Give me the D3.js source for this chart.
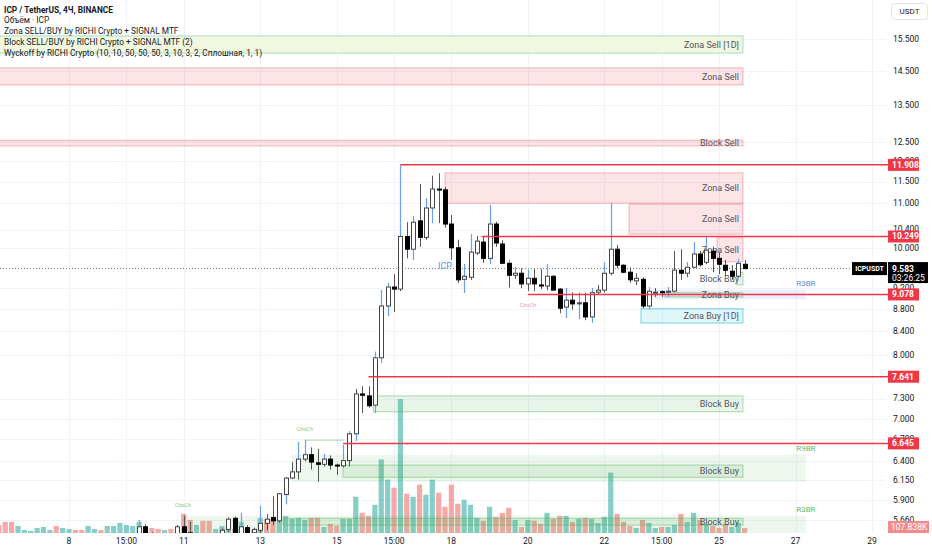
<!DOCTYPE html>
<html>
<head>
<meta charset="utf-8">
<script src="https://cdn.jsdelivr.net/npm/d3@7"></script>
<style>
body { margin: 0; background: #fff; }
svg { display: block; font-family: Roboto, "Noto Sans", sans-serif; }
</style>
</head>
<body>
<script>
// ICP / USDT, 4h candles, chart time (UTC+3), December 2023
var candleStart = "2023-12-09T23:00"; // first candle on screen
var volumeStart = "2023-12-06T07:00"; // first volume bar on screen

var open = [5.49,5.58,5.50,5.46,5.43,5.47,5.45,5.58,5.51,5.44,5.48,5.44,5.42,5.46,5.55,5.68,5.49,5.57,5.51,5.54,
  5.62,5.69,5.65,5.97,6.18,6.26,6.43,6.49,6.38,6.36,6.43,6.35,6.34,6.41,6.78,7.37,7.34,7.20,7.95,8.86,
  9.22,9.18,10.25,9.98,10.59,10.23,10.88,11.32,11.30,10.52,10.01,9.37,9.41,9.90,10.13,9.79,10.52,10.09,9.69,9.45,
  9.49,9.28,9.39,9.26,9.24,9.43,9.18,8.84,8.97,8.90,8.92,8.66,9.12,9.16,9.49,9.98,9.65,9.51,9.34,9.37,
  8.86,9.11,9.13,9.12,9.14,9.55,9.49,9.61,9.88,9.71,9.94,9.79,9.65,9.53,9.43,9.67];
var high = [5.66,5.61,5.52,5.50,5.49,5.51,5.60,5.71,5.64,5.50,5.50,5.48,5.49,5.56,5.69,5.70,5.74,5.60,5.57,5.83,
  5.73,5.95,5.99,6.19,6.39,6.66,6.69,6.59,6.57,6.50,6.48,6.37,6.62,6.82,7.45,7.49,7.49,8.05,9.16,9.30,
  9.47,11.908,10.56,10.70,11.44,11.11,11.64,11.70,11.37,10.72,10.18,9.67,10.30,10.26,10.26,10.95,10.57,10.17,9.76,9.61,
  9.59,9.55,9.57,9.57,9.67,9.45,9.20,9.20,9.12,9.11,9.11,9.20,9.26,9.70,10.98,10.07,9.67,9.61,9.49,9.41,
  9.22,9.20,9.16,9.22,9.94,9.98,9.71,10.13,9.94,10.26,10.03,9.92,9.76,9.65,9.78,9.76];
var low = [5.44,5.45,5.42,5.40,5.41,5.43,5.43,5.45,5.42,5.40,5.38,5.37,5.40,5.44,5.52,5.46,5.46,5.47,5.48,5.50,
  5.54,5.60,5.63,5.85,6.17,6.16,6.40,6.29,6.13,6.33,6.29,6.22,6.32,6.33,6.68,7.08,7.16,7.08,7.87,8.68,
  8.75,9.14,9.79,9.76,10.03,10.18,10.54,10.54,10.44,9.76,9.30,9.11,9.36,9.86,9.70,9.68,10.03,9.68,9.21,9.38,
  9.20,9.14,9.14,9.18,9.16,9.16,8.73,8.64,8.79,8.62,8.60,8.56,9.07,9.11,9.45,9.59,9.49,9.30,9.26,8.82,
  8.80,9.03,9.03,9.03,9.12,9.36,9.41,9.59,9.62,9.67,9.51,9.47,9.45,9.36,9.41,9.57];
var close = [5.58,5.50,5.46,5.43,5.47,5.45,5.58,5.51,5.50,5.48,5.44,5.42,5.46,5.54,5.67,5.49,5.58,5.51,5.55,5.62,
  5.67,5.65,5.98,6.18,6.26,6.43,6.49,6.39,6.36,6.43,6.35,6.34,6.41,6.78,7.37,7.35,7.19,7.95,8.86,9.22,
  9.18,10.25,9.98,10.56,10.23,10.88,11.32,11.30,10.52,10.01,9.36,9.43,9.92,10.15,9.79,10.52,10.11,9.69,9.45,9.49,
  9.28,9.39,9.28,9.24,9.43,9.16,8.82,8.97,8.90,8.92,8.66,9.11,9.16,9.49,9.98,9.65,9.51,9.36,9.39,8.86,
  9.14,9.12,9.11,9.14,9.55,9.49,9.61,9.88,9.66,9.96,9.79,9.67,9.55,9.43,9.69,9.583];

// candles whose upper / lower wick is marked by the Wyckoff script
var markedUpper = [0,16,19,25,26,29,32,33,37,38,39,41,43,45,51,52,55,58,59,61,64,67,69,71,73,74,80,82,83,86,87,89,94];
var markedLower = [23,34,37,38,39,43,46,51,55,67,69,71,80,83];

// volume in thousands of ICP, 1 = rising bar
var volume = [173,238,238,151,65,43,108,130,65,151,108,87,65,65,151,87,65,151,151,216,173,151,
  238,108,108,87,65,87,65,411,281,173,260,260,87,151,108,87,238,108,65,325,303,303,325,368,303,325,281,325,
  325,130,195,151,303,303,779,433,368,606,1580,1147,974,2878,844,779,1039,822,1147,866,563,1039,628,714,606,325,
  260,563,346,433,541,281,130,281,260,195,433,303,368,368,238,303,325,303,216,346,1298,411,238,151,108,281,
  216,108,130,130,173,411,238,433,281,195,151,108,195,130,216,107.838];
var volumeUp = [0,0,0,1,1,1,1,1,1,0,1,1,0,0,1,1,0,1,1,1,1,1,
  1,0,0,0,1,0,1,0,0,1,0,0,1,1,1,0,1,0,1,1,0,0,1,1,1,1,1,0,
  0,1,0,0,1,1,1,0,0,1,1,1,0,1,0,1,0,1,1,0,0,0,0,1,1,1,
  0,1,0,0,0,1,0,1,0,0,1,0,0,1,0,1,0,1,1,1,1,0,0,0,1,0,
  1,1,0,1,1,0,1,1,0,1,0,0,0,1,1,0];

// axes
var priceTicks = [15.5,14.5,13.5,12.5,12,11.5,11,10.4,10,9.2,8.8,8.4,8,7.3,7,6.7,6.4,6.15,5.9,5.66];
var timeTicks = ["2023-12-08T03:00","2023-12-09T15:00","2023-12-11T03:00","2023-12-13T03:00","2023-12-15T03:00",
  "2023-12-16T15:00","2023-12-18T03:00","2023-12-20T03:00","2023-12-22T03:00","2023-12-23T15:00",
  "2023-12-25T03:00","2023-12-27T03:00","2023-12-29T03:00"];
var timeLabels = ["8","15:00","11","13","15","15:00","18","20","22","15:00","25","27","29"];

// horizontal levels
var levelPrice = [11.908, 10.249, 9.078, 7.641, 6.645];
var levelFrom = ["2023-12-16T19:00","2023-12-18T22:00","2023-12-20T03:00","2023-12-15T23:00","2023-12-15T07:00"];

// zones: null start = from the left edge
var zoneName = ["Zona Sell [1D]","Zona Sell","Block Sell","Zona Sell","Zona Sell","Zona Sell","Block Buy","Zona Buy","Zona Buy [1D]","Block Buy","Block Buy","Block Buy"];
var zoneKind = ["sell1d","sell","sell","sell","sell","sell","buy","buy","buy1d","buy","buy","buy"];
var zoneTop = [15.60,14.59,12.54,11.71,10.97,10.24,9.51,9.11,8.81,7.34,6.35,5.68];
var zoneBottom = [15.05,14.08,12.39,10.99,10.30,9.72,9.26,9.03,8.55,7.10,6.19,5.60];
var zoneFrom = [null,null,null,"2023-12-17T23:00","2023-12-22T18:30","2023-12-25T01:45","2023-12-25T14:15",
  "2023-12-23T17:00","2023-12-23T02:00","2023-12-16T02:00","2023-12-15T07:00","2023-12-13T17:20"];
var zoneTo = "2023-12-25T18:00";

var bandName = ["R3BR","R9BR","R3BR"];
var bandTop = [9.16, 6.49, 5.71];
var bandBottom = [8.99, 6.13, 5.40];
var bandFrom = ["2023-12-23T09:00","2023-12-13T23:00","2023-12-11T02:30"];
var bandTo = "2023-12-27T09:30";
var bandBlue = [1, 0, 0];

var chochPrice = [6.69, 5.71, 9.078];
var chochTime = ["2023-12-14T07:00","2023-12-11T02:30","2023-12-20T03:00"];
var chochEnd = ["2023-12-15T08:00", null, null];
var chochUp = [1, 1, 0];

var lastPrice = 9.583, countdown = "03:26:25";

var legend = ["ICP / TetherUS, 4Ч, BINANCE", "Объём · ICP", "Zona SELL/BUY by RICHI Crypto + SIGNAL MTF",
  "Block SELL/BUY by RICHI Crypto + SIGNAL MTF (2)",
  "Wyckoff by RICHI Crypto  (10, 10, 50, 50, 50, 3, 10, 3, 2, Сплошная, 1, 1)"];

// ---------------------------------------------------------------
var W = 932, H = 550, paneR = 886, paneB = 533;
var H4 = 4 * 3600e3;
function t(s) { return new Date(s + ":00Z"); }

var svg = d3.select("body").append("svg").attr("width", W).attr("height", H);

var x = d3.scaleUtc().domain([t("2023-12-08T03:00"), t("2023-12-29T03:00")]).range([69, 872]);
var y = d3.scaleLog().domain([5.66, 15.5]).range([520, 39]);
var yv = d3.scaleLinear().domain([0, 2900]).range([paneB, paneB - 135]);

svg.append("clipPath").attr("id", "pane")
  .append("rect").attr("x", 0).attr("y", 0).attr("width", paneR).attr("height", paneB);

// grid
var grid = svg.append("g").attr("stroke", "#f0f3fa").attr("shape-rendering", "crispEdges");
grid.selectAll(".h").data(priceTicks).enter().append("line")
  .attr("x1", 0).attr("x2", paneR).attr("y1", d => Math.round(y(d)) + 0.5).attr("y2", d => Math.round(y(d)) + 0.5);
grid.selectAll(".v").data(timeTicks).enter().append("line")
  .attr("y1", 0).attr("y2", paneB).attr("x1", d => Math.round(x(t(d))) + 0.5).attr("x2", d => Math.round(x(t(d))) + 0.5);

var pane = svg.append("g").attr("clip-path", "url(#pane)");

// volume
var v0 = t(volumeStart).getTime();
pane.append("g").selectAll("rect").data(volume).enter().append("rect")
  .attr("x", (d, i) => x(new Date(v0 + i * H4)) - 2.6)
  .attr("width", 5.2)
  .attr("y", d => yv(d))
  .attr("height", d => paneB - yv(d))
  .attr("fill", (d, i) => volumeUp[i] ? "rgba(38,166,154,0.55)" : "rgba(239,83,80,0.5)");

// bands
var bands = pane.append("g");
bandName.forEach(function (name, i) {
  var x1 = x(t(bandFrom[i])), x2 = x(t(bandTo));
  bands.append("rect").attr("x", x1).attr("width", x2 - x1)
    .attr("y", y(bandTop[i])).attr("height", y(bandBottom[i]) - y(bandTop[i]))
    .attr("fill", bandBlue[i] ? "rgba(41,98,255,0.1)" : "rgba(76,175,80,0.1)");
  bands.append("text").attr("x", x2).attr("y", y(bandTop[i]) - 4)
    .attr("text-anchor", "middle").attr("font-size", 8)
    .attr("fill", bandBlue[i] ? "#5b8fd9" : "#66bb6a").text(name);
});

// zones
var zoneStyle = {
  sell1d: ["#f2f7df", "#a9dcc4"],
  sell: ["rgba(242,54,69,0.13)", "rgba(242,54,69,0.35)"],
  buy: ["rgba(76,175,80,0.12)", "rgba(76,175,80,0.45)"],
  buy1d: ["rgba(0,188,212,0.12)", "rgba(0,172,193,0.5)"]
};
var zones = pane.append("g");
zoneName.forEach(function (name, i) {
  var x1 = zoneFrom[i] ? x(t(zoneFrom[i])) : -2, x2 = x(t(zoneTo));
  var st = zoneStyle[zoneKind[i]];
  zones.append("rect").attr("x", x1).attr("width", x2 - x1)
    .attr("y", y(zoneTop[i])).attr("height", y(zoneBottom[i]) - y(zoneTop[i]))
    .attr("fill", st[0]).attr("stroke", st[1]);
});
zoneName.forEach(function (name, i) {
  zones.append("text").attr("x", x(t(zoneTo)) - 4)
    .attr("y", (y(zoneTop[i]) + y(zoneBottom[i])) / 2).attr("dy", "0.35em")
    .attr("text-anchor", "end").attr("font-size", 9).attr("fill", "#50535e").text(name);
});

// ChoCh marks
chochPrice.forEach(function (p, i) {
  var cx = x(t(chochTime[i]));
  if (chochEnd[i]) {
    pane.append("line").attr("x1", cx).attr("x2", x(t(chochEnd[i])))
      .attr("y1", y(p)).attr("y2", y(p)).attr("stroke", "rgba(76,175,80,0.45)");
  }
  pane.append("text").attr("x", cx).attr("y", y(p) + (chochUp[i] ? -9 : 13))
    .attr("text-anchor", "middle").attr("font-size", 5.5)
    .attr("fill", chochUp[i] ? "#81c784" : "#f48fb1").text("ChoCh");
});

// current price dotted line
pane.append("line").attr("x1", 0).attr("x2", 852)
  .attr("y1", y(lastPrice)).attr("y2", y(lastPrice))
  .attr("stroke", "#787b86").attr("stroke-dasharray", "1,2");
pane.append("text").attr("x", x(t("2023-12-17T23:00"))).attr("y", y(lastPrice))
  .attr("text-anchor", "middle").attr("font-size", 9).attr("fill", "#5b8def").text("ICP");

// candles
var c0 = t(candleStart).getTime();
var cx = open.map((d, i) => Math.round(x(new Date(c0 + i * H4))) + 0.5);
var candles = pane.append("g");
candles.selectAll(".wick").data(open).enter().append("line")
  .attr("x1", (d, i) => cx[i]).attr("x2", (d, i) => cx[i])
  .attr("y1", (d, i) => y(high[i])).attr("y2", (d, i) => y(low[i]))
  .attr("stroke", "#555");
markedUpper.forEach(function (i) {
  candles.append("line").attr("x1", cx[i]).attr("x2", cx[i])
    .attr("y1", y(high[i])).attr("y2", y(Math.max(open[i], close[i])))
    .attr("stroke", "#6a9ef0").attr("stroke-width", 1.2);
});
markedLower.forEach(function (i) {
  candles.append("line").attr("x1", cx[i]).attr("x2", cx[i])
    .attr("y1", y(Math.min(open[i], close[i]))).attr("y2", y(low[i]))
    .attr("stroke", "#6a9ef0").attr("stroke-width", 1.2);
});
candles.selectAll(".body").data(open).enter().append("rect")
  .attr("x", (d, i) => cx[i] - 2)
  .attr("width", 4)
  .attr("y", (d, i) => y(Math.max(open[i], close[i])))
  .attr("height", (d, i) => Math.max(1, y(Math.min(open[i], close[i])) - y(Math.max(open[i], close[i]))))
  .attr("fill", (d, i) => close[i] >= open[i] ? "#fff" : "#000")
  .attr("stroke", (d, i) => close[i] >= open[i] ? "#444" : "#000");

// red levels
levelPrice.forEach(function (p, i) {
  svg.append("line").attr("x1", x(t(levelFrom[i]))).attr("x2", 888)
    .attr("y1", y(p)).attr("y2", y(p)).attr("stroke", "#f23645").attr("stroke-width", 1.5);
});

// price axis
var fmt = d3.format(".3f");
svg.append("g").selectAll("text").data(priceTicks).enter().append("text")
  .attr("x", 893).attr("y", d => y(d)).attr("dy", "0.35em")
  .attr("font-size", 8.5).attr("fill", "#131722").text(d => fmt(d));

levelPrice.forEach(function (p) {
  svg.append("rect").attr("x", 888).attr("width", 31).attr("y", y(p) - 6).attr("height", 12).attr("fill", "#f23645");
  svg.append("text").attr("x", 892).attr("y", y(p)).attr("dy", "0.35em")
    .attr("font-size", 8.5).attr("font-weight", "bold").attr("fill", "#fff").text(fmt(p));
});

// last price and countdown
var ly = y(lastPrice);
svg.append("rect").attr("x", 852).attr("y", ly - 6.5).attr("width", 35).attr("height", 13).attr("fill", "#000");
svg.append("text").attr("x", 869.5).attr("y", ly).attr("dy", "0.35em").attr("text-anchor", "middle")
  .attr("font-size", 7).attr("font-weight", "bold").attr("fill", "#fff").text("ICPUSDT");
svg.append("rect").attr("x", 888).attr("y", ly - 6.5).attr("width", 40).attr("height", 21).attr("fill", "#000");
svg.append("text").attr("x", 892).attr("y", ly).attr("dy", "0.35em")
  .attr("font-size", 8.5).attr("font-weight", "bold").attr("fill", "#fff").text(fmt(lastPrice));
svg.append("text").attr("x", 892).attr("y", ly + 9.5).attr("dy", "0.35em")
  .attr("font-size", 8.5).attr("fill", "#fff").text(countdown);

// last volume label
var lastVol = volume[volume.length - 1];
svg.append("rect").attr("x", 888).attr("y", 521).attr("width", 41).attr("height", 12).attr("fill", "#f28b8b");
svg.append("text").attr("x", 891).attr("y", 527).attr("dy", "0.35em")
  .attr("font-size", 8.5).attr("fill", "#fff").text(d3.format(".3f")(lastVol) + "K");

// time axis
svg.append("g").selectAll("text").data(timeTicks).enter().append("text")
  .attr("x", d => x(t(d))).attr("y", 541).attr("dy", "0.35em").attr("text-anchor", "middle")
  .attr("font-size", 8.5).attr("fill", "#131722").text((d, i) => timeLabels[i]);

// currency button
svg.append("rect").attr("x", 891.5).attr("y", 3.5).attr("width", 36).attr("height", 16).attr("rx", 3)
  .attr("fill", "#fff").attr("stroke", "#e0e3eb");
svg.append("text").attr("x", 909.5).attr("y", 11.5).attr("dy", "0.35em").attr("text-anchor", "middle")
  .attr("font-size", 8).attr("fill", "#131722").text("USDT");

// legend
var legendY = [10, 20.5, 31, 42, 53];
svg.append("g").selectAll("text").data(legend).enter().append("text")
  .attr("x", 4).attr("y", (d, i) => legendY[i]).attr("dy", "0.35em")
  .attr("font-size", 8.3).attr("font-weight", (d, i) => i === 0 ? "bold" : "normal")
  .attr("fill", "#131722").text(d => d);
</script>
</body>
</html>
